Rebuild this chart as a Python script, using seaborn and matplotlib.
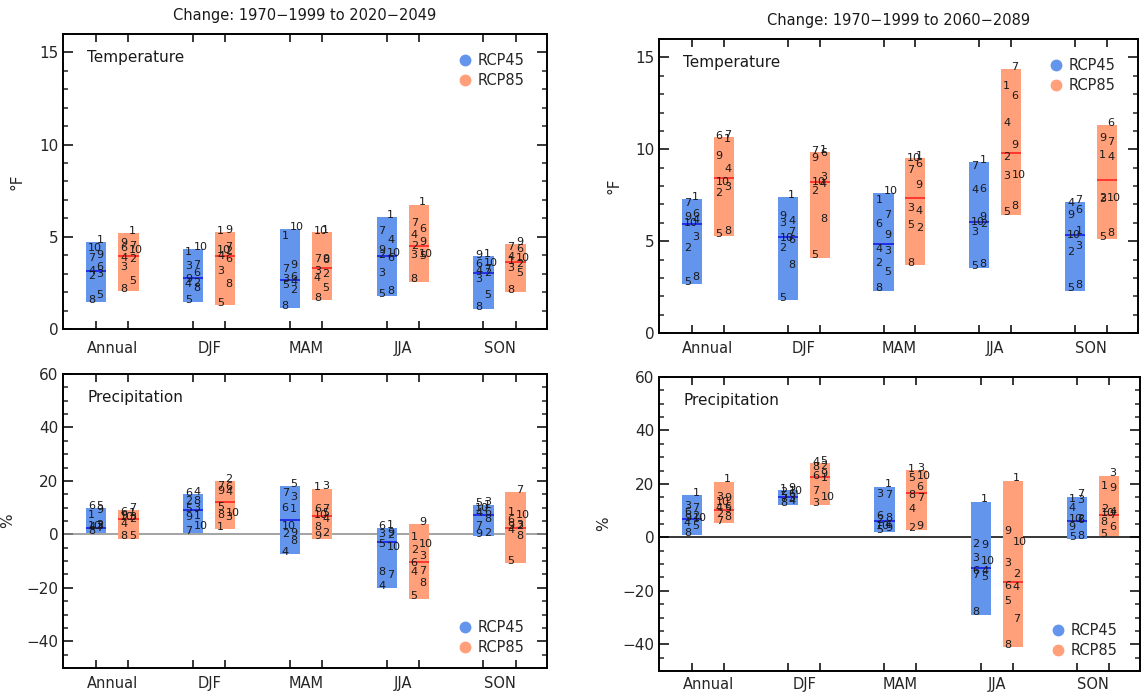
import numpy as np
import matplotlib
matplotlib.use("Agg")
import matplotlib.pyplot as plt
import seaborn as sns
from matplotlib.lines import Line2D

# ---------------- data ----------------
seasons = ["Annual", "DJF", "MAM", "JJA", "SON"]
models = [1, 2, 3, 4, 5, 6, 7, 8, 9, 10]
scenarios = ["RCP45", "RCP85"]
titles = ["Change: 1970\u22121999 to 2020\u22122049",
          "Change: 1970\u22121999 to 2060\u22122089"]

# each row = season, each column = model 1..10
temp_early_rcp45 = [
    [4.73, 2.75, 2.85, 3.05, 1.75, 3.25, 3.75, 1.47, 3.90, 4.25],
    [4.05, 2.40, 3.30, 2.30, 1.47, 2.90, 3.35, 2.12, 2.60, 4.35],
    [4.95, 2.00, 2.60, 2.45, 2.25, 2.72, 3.15, 1.12, 3.35, 5.43],
    [6.06, 3.90, 2.90, 4.70, 1.80, 3.75, 5.20, 1.95, 4.15, 4.02],
    [3.96, 2.90, 2.60, 3.00, 1.70, 3.40, 3.12, 1.08, 3.90, 3.45],
]
temp_early_rcp85 = [
    [5.18, 3.70, 3.26, 3.75, 2.48, 4.25, 4.37, 2.07, 4.55, 4.17],
    [5.20, 4.10, 3.00, 3.85, 1.28, 3.70, 4.30, 2.30, 5.27, 4.15],
    [5.27, 2.88, 3.00, 2.64, 2.12, 3.60, 3.65, 1.58, 3.70, 5.20],
    [6.75, 4.40, 3.90, 5.00, 3.85, 5.30, 5.65, 2.57, 4.60, 3.95],
    [3.55, 3.40, 3.20, 3.80, 2.90, 4.22, 4.32, 2.01, 4.59, 3.75],
]
temp_late_rcp45 = [
    [7.30, 4.50, 5.10, 6.05, 2.64, 6.35, 6.95, 2.90, 6.20, 5.85],
    [7.40, 4.50, 5.85, 6.00, 1.80, 4.95, 5.40, 3.60, 6.25, 5.05],
    [7.10, 3.68, 4.32, 4.45, 3.22, 5.80, 6.31, 2.31, 5.20, 7.62],
    [9.28, 5.80, 5.40, 7.65, 3.55, 7.70, 8.95, 3.65, 6.20, 5.92],
    [5.45, 4.28, 4.60, 6.95, 2.31, 6.60, 7.11, 2.50, 6.30, 5.20],
]
temp_late_rcp85 = [
    [10.45, 7.50, 7.80, 8.80, 5.26, 10.60, 10.68, 5.45, 9.50, 8.10],
    [9.85, 7.60, 8.35, 8.00, 4.10, 9.70, 9.80, 6.10, 9.40, 8.10],
    [9.53, 5.60, 6.70, 6.50, 5.75, 9.05, 8.75, 3.68, 7.95, 9.40],
    [13.30, 9.45, 8.40, 11.30, 6.44, 12.80, 14.37, 6.80, 10.10, 8.50],
    [9.58, 7.25, 7.15, 9.45, 5.10, 11.30, 10.25, 5.30, 10.50, 7.20],
]
prec_early_rcp45 = [
    [6.3, 2.6, 2.3, 2.0, 9.75, 9.6, 1.5, 0.6, 8.4, 2.4],
    [6.0, 11.5, 9.2, 15.0, 8.8, 14.8, 0.6, 11.8, 5.8, 2.4],
    [8.75, -0.6, 13.1, -7.25, 18.1, 9.1, 14.75, -3.4, -0.4, 2.3],
    [2.5, -1.0, -0.8, -20.2, -4.6, 2.3, -16.0, -15.1, -0.5, -5.7],
    [10.0, -0.2, 11.1, 7.1, 10.8, 7.5, 2.2, 5.0, -0.6, 9.0],
]
prec_early_rcp85 = [
    [7.3, 4.8, 5.7, 3.0, -1.4, 7.5, 9.0, -1.6, 6.0, 5.5],
    [2.1, 20.0, 5.5, 15.0, 9.5, 17.0, 17.2, 6.6, 15.5, 7.0],
    [16.8, -0.4, 17.1, 5.0, 7.2, 8.6, 8.8, 1.9, -1.6, 6.6],
    [-1.9, -6.7, -9.0, -15.1, -24.0, -11.6, -14.5, -18.9, 3.8, -4.4],
    [7.6, 2.2, 2.6, 0.9, -10.7, 4.4, 15.8, -1.3, 2.4, 6.6],
]
prec_late_rcp45 = [
    [15.9, 7.0, 10.8, 4.6, 3.4, 8.6, 10.3, 0.9, 6.6, 6.4],
    [17.2, 16.0, 14.0, 12.8, 14.6, 15.4, 13.5, 12.1, 17.75, 16.6],
    [19.0, 5.6, 15.5, 3.7, 2.1, 7.2, 15.0, 6.6, 2.8, 3.3],
    [13.4, -3.2, -8.5, -13.6, -15.5, -13.4, -15.0, -28.9, -3.6, -9.8],
    [13.6, 6.2, 13.2, 10.0, -0.75, 5.8, 15.25, -0.5, 3.0, 6.0],
]
prec_late_rcp85 = [
    [20.9, 8.0, 14.2, 10.1, 9.8, 10.4, 5.25, 6.7, 13.8, 12.3],
    [21.5, 26.0, 12.1, 27.5, 27.7, 22.2, 16.5, 25.6, 22.8, 14.3],
    [24.8, 2.75, 25.25, 9.6, 21.2, 18.0, 14.0, 15.0, 3.3, 22.0],
    [21.25, -14.6, -10.4, -19.3, -24.75, -19.0, -31.25, -41.0, 1.5, -2.5],
    [18.2, 9.8, 23.1, 8.6, 0.5, 3.0, 7.6, 5.0, 17.8, 8.2],
]

# ---------------- style ----------------
sns.set_theme(style="ticks")
plt.rcParams["font.family"] = ["DejaVu Sans"]
plt.rcParams["axes.linewidth"] = 1.4

bar_colors = {"RCP45": "#6495ED", "RCP85": "#FFA07A"}
med_colors = {"RCP45": "#1010E8", "RCP85": "#FF1A1A"}
offsets = {"RCP45": -0.166, "RCP85": 0.166}
bar_w = 0.21

fig = plt.figure(figsize=(11.42, 6.96), dpi=100)

W, H = 1142.0, 696.0
def box(l, t, r, b):
    return [l / W, 1 - b / H, (r - l) / W, (b - t) / H]

panels = [
    dict(rect=box(63, 34, 547, 329), data=(temp_early_rcp45, temp_early_rcp85),
         kind="temp", title=titles[0], zero=None, legend="upper", xpad=9),
    dict(rect=box(659, 39, 1138, 333), data=(temp_late_rcp45, temp_late_rcp85),
         kind="temp", title=titles[1], zero=None, legend="upper", xpad=6),
    dict(rect=box(63, 374, 547, 668), data=(prec_early_rcp45, prec_early_rcp85),
         kind="prec", title=None, zero="#8a8a8a", legend="lower", xpad=6),
    dict(rect=box(659, 377, 1140, 671), data=(prec_late_rcp45, prec_late_rcp85),
         kind="prec", title=None, zero="black", legend="lower", xpad=4),
]

xc = np.arange(len(seasons))

for p in panels:
    ax = fig.add_axes(p["rect"])
    for scen, arr in zip(scenarios, p["data"]):
        vals = np.asarray(arr, dtype=float)
        lo = vals.min(axis=1)
        hi = vals.max(axis=1)
        med = np.median(vals, axis=1)
        xs = xc + offsets[scen]
        ax.bar(xs, hi - lo, bottom=lo, width=bar_w, color=bar_colors[scen],
               linewidth=0, zorder=2)
        ax.hlines(med, xs - bar_w / 2, xs + bar_w / 2, color=med_colors[scen],
                  lw=1.1, zorder=3)
        for i in range(len(seasons)):
            order = np.argsort(vals[i], kind="stable")
            for rank, j in enumerate(order):
                dx = -5.9 if rank % 2 == 0 else 0.2
                ax.annotate(str(models[j]), xy=(xs[i], vals[i, j]),
                            xytext=(dx, 1.6), textcoords="offset points",
                            ha="left", va="center", fontsize=8,
                            color="#1a1a1a", zorder=4)
    if p["zero"] is not None:
        ax.axhline(0, color=p["zero"], lw=1.1, zorder=1)

    ax.set_xlim(-0.51, 4.49)
    if p["kind"] == "temp":
        ax.set_ylim(0, 16)
        ax.set_yticks([0, 5, 10, 15])
        ax.set_yticks(np.arange(0, 17, 1), minor=True)
        ax.set_ylabel("\u00b0F", fontsize=11, labelpad=10)
        label = "Temperature"
    else:
        ax.set_ylim(-50, 60)
        ax.set_yticks([-40, -20, 0, 20, 40, 60])
        ax.set_yticks(np.arange(-50, 61, 5), minor=True)
        ax.set_ylabel("%", fontsize=11, labelpad=8)
        label = "Precipitation"

    ax.set_xticks(xc)
    ax.set_xticklabels(seasons)
    ax.set_xticks(np.concatenate([xc - 0.166, xc + 0.166]), minor=True)
    ax.tick_params(axis="x", which="major", length=0, pad=p["xpad"], labelsize=10.5)
    ax.tick_params(axis="x", which="minor", direction="in", length=6,
                   width=1.3, top=True, bottom=True)
    ax.tick_params(axis="y", which="major", direction="in", length=7,
                   width=1.3, left=True, right=True, labelsize=11)
    ax.tick_params(axis="y", which="minor", direction="in", length=3.5,
                   width=1.1, left=True, right=True)
    for s in ax.spines.values():
        s.set_color("black")
        s.set_linewidth(1.4)

    ax.text(0.05, 0.92, label, transform=ax.transAxes, fontsize=11,
            ha="left", va="center", color="#1a1a1a")

    if p["title"]:
        ax.set_title(p["title"], fontsize=10.5, pad=10, color="#1a1a1a")

    handles = [Line2D([], [], marker="o", linestyle="none", markersize=7.5,
                      markerfacecolor=bar_colors[s], markeredgecolor=bar_colors[s],
                      label=s) for s in scenarios]
    if p["legend"] == "upper":
        ax.legend(handles=handles, loc="upper right", bbox_to_anchor=(0.965, 0.955),
                  frameon=False, fontsize=10.5, handlelength=0.8,
                  handletextpad=0.45, labelspacing=0.35, borderaxespad=0)
    else:
        ax.legend(handles=handles, loc="lower right", bbox_to_anchor=(0.965, 0.025),
                  frameon=False, fontsize=10.5, handlelength=0.8,
                  handletextpad=0.45, labelspacing=0.35, borderaxespad=0)

fig.savefig("out.png", dpi=100)
